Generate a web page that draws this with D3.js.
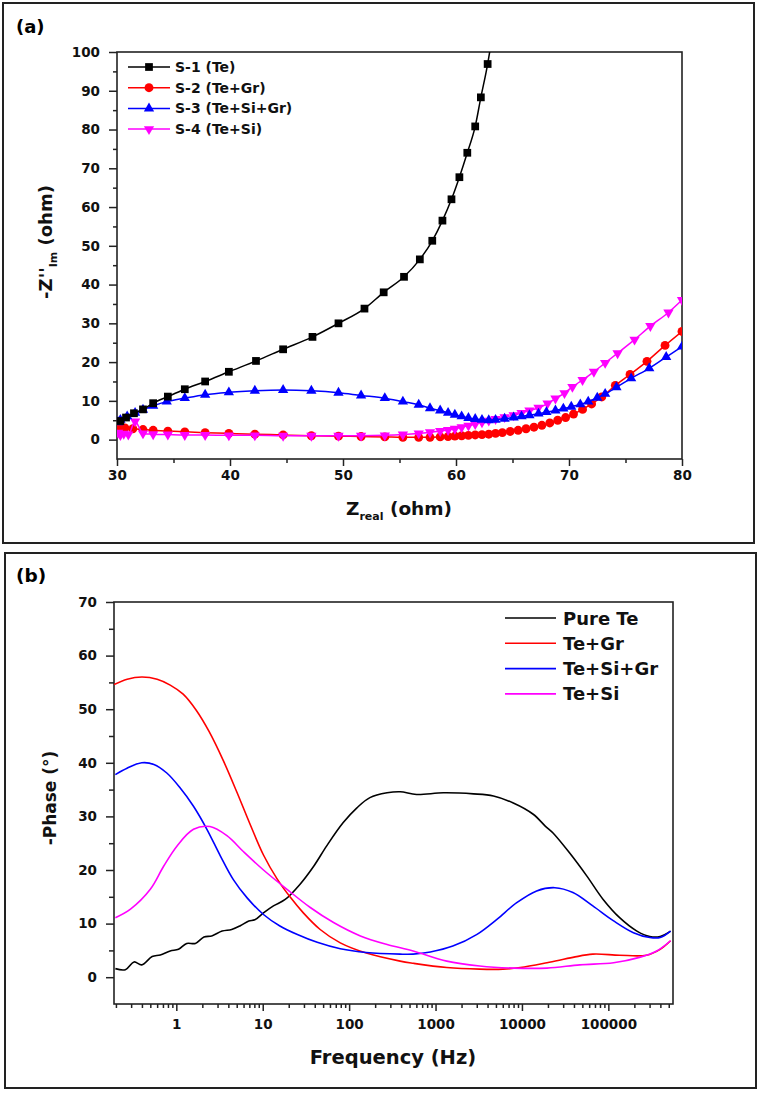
<!DOCTYPE html>
<html><head><meta charset="utf-8">
<script src="https://cdn.jsdelivr.net/npm/d3@7"></script>
<style>
body{margin:0;background:#fff}
svg{display:block}
text{font-family:"DejaVu Sans",sans-serif}
</style></head>
<body><svg id="c" width="761" height="1093"></svg>
<script>
// ---------- Panel (a) data: Nyquist, [Z_real, -Z''_Im] ----------
const s1Name = "S-1 (Te)", s2Name = "S-2 (Te+Gr)", s3Name = "S-3 (Te+Si+Gr)", s4Name = "S-4 (Te+Si)";
const s1 = [[30.3,4.8],[30.8,5.7],[31.5,6.8],[32.3,7.8],[33.2,9.4],[34.5,11.1],[36.0,13.0],[37.8,15.0],[39.9,17.5],[42.3,20.3],[44.7,23.3],[47.3,26.5],[49.6,30.0],[51.9,33.8],[53.6,38.0],[55.4,42.0],[56.8,46.5],[57.9,51.3],[58.8,56.5],[59.6,62.0],[60.3,67.7],[61.0,74.0],[61.7,80.8],[62.2,88.3],[62.8,96.9],[63.2,104]];
const s2 = [[30.2,3.5],[30.7,3.0],[31.4,2.8],[32.3,2.6],[33.2,2.4],[34.5,2.2],[36.0,2.0],[37.8,1.8],[39.9,1.6],[42.2,1.4],[44.7,1.2],[47.2,1.0],[49.6,0.9],[51.6,0.8],[53.7,0.7],[55.3,0.6],[56.7,0.6],[57.7,0.6],[58.6,0.7],[59.3,0.8],[59.9,0.9],[60.5,1.0],[61.1,1.1],[61.7,1.2],[62.3,1.3],[62.9,1.4],[63.5,1.6],[64.1,1.8],[64.8,2.1],[65.5,2.4],[66.2,2.8],[66.9,3.2],[67.6,3.7],[68.3,4.3],[69.0,5.0],[69.7,5.7],[70.4,6.6],[71.2,7.8],[72.0,9.2],[72.9,11.0],[74.1,14.0],[75.4,16.8],[76.9,20.2],[78.5,24.3],[80,27.9]];
const s3 = [[30.1,4.5],[30.3,5.1],[30.9,6.0],[31.6,6.9],[32.3,7.7],[33.2,8.7],[34.4,9.8],[36.0,10.7],[37.8,11.6],[39.9,12.2],[42.2,12.6],[44.7,12.8],[47.2,12.6],[49.6,12.1],[51.6,11.4],[53.7,10.7],[55.3,9.8],[56.7,9.0],[57.7,8.1],[58.6,7.5],[59.3,6.9],[59.9,6.4],[60.5,6.0],[61.1,5.6],[61.7,5.3],[62.3,5.1],[62.9,5.0],[63.5,5.1],[64.3,5.4],[65.1,5.7],[65.8,6.0],[66.5,6.3],[67.3,6.7],[68.0,7.1],[68.8,7.5],[69.5,8.0],[70.2,8.5],[71.0,9.1],[71.7,9.8],[72.5,10.8],[73.2,11.8],[74.2,13.5],[75.5,15.8],[77.1,18.4],[78.6,21.3],[80,24.0]];
const s4 = [[30.1,1.8],[30.3,1.2],[30.6,1.5],[31.0,1.3],[31.6,4.7],[32.3,1.6],[33.2,1.4],[34.5,1.3],[36.0,1.2],[37.8,1.2],[39.9,1.1],[42.2,1.1],[44.7,1.0],[47.2,1.0],[49.6,1.0],[51.6,1.0],[53.7,1.1],[55.3,1.3],[56.7,1.6],[57.7,1.9],[58.6,2.2],[59.3,2.5],[59.9,2.8],[60.5,3.2],[61.1,3.6],[61.7,4.0],[62.3,4.5],[62.9,4.9],[63.5,5.3],[64.3,5.8],[65.1,6.3],[65.8,6.9],[66.5,7.5],[67.3,8.2],[68.1,9.3],[68.8,10.6],[69.6,12.0],[70.3,13.6],[71.2,15.4],[72.2,17.5],[73.2,19.8],[74.3,22.3],[75.8,25.8],[77.2,29.3],[78.8,32.8],[80,36.0]];
const xTicksA = [30,40,50,60,70,80];
const xMinorA = [35,45,55,65,75];
const yTicksA = [0,10,20,30,40,50,60,70,80,90,100];
const yMinorA = [5,15,25,35,45,55,65,75,85,95];

// ---------- Panel (b) data: Bode phase, [frequency Hz, -phase deg] ----------
const bNames = ["Pure Te","Te+Gr","Te+Si+Gr","Te+Si"];
const pureTe = [[0.197,1.6],[0.257,1.4],[0.324,2.85],[0.398,2.3],[0.525,3.85],[0.653,4.15],[0.85,4.9],[1.06,5.2],[1.32,6.3],[1.66,6.3],[2.09,7.5],[2.57,7.7],[3.39,8.6],[4.37,8.9],[5.5,9.6],[6.9,10.5],[8.1,10.7],[10.2,12.0],[13.3,13.3],[18.2,14.5],[26.9,17.3],[38.9,20.7],[55,24.5],[85,28.8],[123,31.6],[174,33.5],[275,34.4],[389,34.6],[603,34.1],[1230,34.4],[2750,34.2],[4680,33.8],[7940,32.5],[13500,30.4],[18600,28.2],[22900,26.9],[35500,23.2],[56200,18.9],[87100,14.5],[135000,11.1],[214000,8.6],[302000,7.6],[398000,7.6],[525000,8.6]];
const teGr = [[0.19,54.6],[0.27,55.6],[0.4,56.0],[0.6,55.6],[0.85,54.5],[1.2,52.8],[1.7,49.8],[2.4,45.8],[3.5,40.4],[5.0,34.6],[7.2,28.4],[10.2,22.8],[14.6,18.4],[20.9,14.9],[29.5,12.0],[46.2,8.9],[79,6.4],[158,4.5],[389,3.0],[550,2.6],[1350,1.8],[3240,1.5],[6030,1.5],[9550,1.8],[19500,2.7],[38900,3.7],[66100,4.3],[135000,4.1],[275000,4.1],[398000,5.2],[525000,6.8]];
const teSiGr = [[0.197,37.8],[0.269,39.0],[0.398,40.0],[0.55,39.7],[0.776,38.1],[1.11,35.3],[1.58,31.9],[2.26,27.6],[3.24,22.6],[4.57,18.2],[6.6,14.8],[10.2,11.7],[15.8,9.55],[24.8,8.0],[42.7,6.5],[79,5.3],[158,4.6],[389,4.3],[550,4.3],[871,4.7],[1585,5.8],[3020,8.0],[5130,10.8],[8710,13.9],[14800,16.1],[24000,16.7],[38900,15.8],[66100,13.3],[115000,10.5],[195000,8.3],[302000,7.4],[398000,7.4],[525000,8.6]];
const teSi = [[0.197,11.1],[0.295,12.7],[0.50,16.4],[0.713,20.7],[1.02,24.5],[1.58,27.6],[2.45,28.1],[3.85,26.4],[6.0,23.4],[10.2,20.0],[19.1,16.4],[35.5,13.0],[66,10.2],[135,7.7],[275,6.1],[550,4.9],[1350,3.0],[3240,2.1],[7940,1.7],[19500,1.7],[46800,2.3],[115000,2.7],[229000,3.7],[363000,4.9],[525000,6.8]];
const xTicksB = [1,10,100,1000,10000,100000];
const yTicksB = [0,10,20,30,40,50,60,70];
const yMinorB = [5,15,25,35,45,55,65];

const svg = d3.select("#c");
const AX = "#222";

// outer panel borders
svg.append("rect").attr("x",3).attr("y",3).attr("width",751).attr("height",540)
  .attr("fill","none").attr("stroke",AX).attr("stroke-width",2);
svg.append("rect").attr("x",5).attr("y",553).attr("width",751).attr("height",535)
  .attr("fill","none").attr("stroke",AX).attr("stroke-width",2);

function styleAxis(g, fs){
  g.select(".domain").remove();
  g.selectAll("line").attr("stroke",AX).attr("stroke-width",1.5);
  g.selectAll("text").attr("font-size",fs).attr("font-weight","bold").attr("fill","#111")
    .attr("font-family","DejaVu Sans, sans-serif");
}

// ================= Panel (a) =================
const A = {l:117, r:682, t:52, b:459};
const xA = d3.scaleLinear().domain([30,80]).range([A.l,A.r]);
const yA = d3.scaleLinear().domain([-5,100]).range([A.b,A.t]);

const defs = svg.append("defs");
defs.append("clipPath").attr("id","clipA").append("rect")
  .attr("x",A.l).attr("y",A.t).attr("width",A.r-A.l).attr("height",A.b-A.t);
const B = {l:114, r:673, t:602, b:1004};
defs.append("clipPath").attr("id","clipB").append("rect")
  .attr("x",B.l).attr("y",B.t).attr("width",B.r-B.l).attr("height",B.b-B.t);

let g;
g = svg.append("g").attr("transform",`translate(${A.l},0)`)
  .call(d3.axisLeft(yA).tickValues(yTicksA).tickSize(8).tickSizeOuter(0).tickPadding(9));
styleAxis(g,13.5);
g = svg.append("g").attr("transform",`translate(${A.l},0)`)
  .call(d3.axisLeft(yA).tickValues(yMinorA).tickSize(4).tickSizeOuter(0).tickFormat(""));
styleAxis(g,13.5);
g = svg.append("g").attr("transform",`translate(0,${A.b})`)
  .call(d3.axisBottom(xA).tickValues(xTicksA).tickSize(7).tickSizeOuter(0).tickPadding(4));
styleAxis(g,13.5);
g = svg.append("g").attr("transform",`translate(0,${A.b})`)
  .call(d3.axisBottom(xA).tickValues(xMinorA).tickSize(4).tickSizeOuter(0).tickFormat(""));
styleAxis(g,13.5);

svg.append("rect").attr("x",A.l).attr("y",A.t).attr("width",A.r-A.l).attr("height",A.b-A.t)
  .attr("fill","none").attr("stroke",AX).attr("stroke-width",1.6);

const seriesA = [
  {name:s1Name, data:s1, color:"#000000", sym:d3.symbolSquare, size:60, rot:0},
  {name:s2Name, data:s2, color:"#ff0000", sym:d3.symbolCircle, size:62, rot:0},
  {name:s3Name, data:s3, color:"#0000ff", sym:d3.symbolTriangle, size:46, rot:0},
  {name:s4Name, data:s4, color:"#ff00ff", sym:d3.symbolTriangle, size:46, rot:180}
];
const lineA = d3.line().x(d=>xA(d[0])).y(d=>yA(d[1])).curve(d3.curveMonotoneX);
const plotA = svg.append("g").attr("clip-path","url(#clipA)");
[seriesA[1], seriesA[3], seriesA[2], seriesA[0]].forEach(s=>{
  plotA.append("path").datum(s.data).attr("d",lineA).attr("fill","none")
    .attr("stroke",s.color).attr("stroke-width",1.5);
  const sg = d3.symbol().type(s.sym).size(s.size);
  plotA.append("g").selectAll("path").data(s.data).join("path")
    .attr("d",sg).attr("fill",s.color)
    .attr("transform",d=>`translate(${xA(d[0])},${yA(d[1])}) rotate(${s.rot})`);
});

// legend (a)
seriesA.forEach((s,i)=>{
  const y = 67 + i*20.7;
  svg.append("line").attr("x1",128).attr("x2",170).attr("y1",y).attr("y2",y)
    .attr("stroke",s.color).attr("stroke-width",1.5);
  svg.append("path").attr("d",d3.symbol().type(s.sym).size(s.size)())
    .attr("fill",s.color).attr("transform",`translate(149,${y}) rotate(${s.rot})`);
  svg.append("text").attr("x",175).attr("y",y+5).attr("font-size",14).attr("font-weight","bold")
    .attr("fill","#111").text(s.name);
});

// titles (a)
svg.append("text").attr("x",16).attr("y",33).attr("font-size",18).attr("font-weight","bold").text("(a)");
const ytA = svg.append("text").attr("transform","translate(52,242) rotate(-90)")
  .attr("text-anchor","middle").attr("font-weight","bold").attr("fill","#111");
ytA.append("tspan").attr("font-size",18).text("-Z''");
ytA.append("tspan").attr("font-size",11).attr("dy",5).text("Im");
ytA.append("tspan").attr("font-size",18).attr("dy",-5).text(" (ohm)");
const xtA = svg.append("text").attr("x",399).attr("y",515)
  .attr("text-anchor","middle").attr("font-weight","bold").attr("fill","#111");
xtA.append("tspan").attr("font-size",18.5).text("Z");
xtA.append("tspan").attr("font-size",11).attr("dy",5).text("real");
xtA.append("tspan").attr("font-size",18.5).attr("dy",-5).text(" (ohm)");

// ================= Panel (b) =================
const xB = d3.scaleLog().domain([0.19,560000]).range([B.l,B.r]);
const yB = d3.scaleLinear().domain([-5,70]).range([B.b,B.t]);
const xMinorB = [];
for (let k=-1;k<=5;k++) for (let m=2;m<=9;m++){ const v=m*Math.pow(10,k); if(v>=0.19 && v<=560000) xMinorB.push(v); }

g = svg.append("g").attr("transform",`translate(${B.l},0)`)
  .call(d3.axisLeft(yB).tickValues(yTicksB).tickSize(8).tickSizeOuter(0).tickPadding(9));
styleAxis(g,13.5);
g = svg.append("g").attr("transform",`translate(${B.l},0)`)
  .call(d3.axisLeft(yB).tickValues(yMinorB).tickSize(5).tickSizeOuter(0).tickFormat(""));
styleAxis(g,13.5);
g = svg.append("g").attr("transform",`translate(0,${B.b})`)
  .call(d3.axisBottom(xB).tickValues(xTicksB).tickSize(7).tickSizeOuter(0).tickPadding(8).tickFormat(d=>String(d)));
styleAxis(g,13.5);
g = svg.append("g").attr("transform",`translate(0,${B.b})`)
  .call(d3.axisBottom(xB).tickValues(xMinorB).tickSize(4).tickSizeOuter(0).tickFormat(""));
styleAxis(g,13.5);

svg.append("rect").attr("x",B.l).attr("y",B.t).attr("width",B.r-B.l).attr("height",B.b-B.t)
  .attr("fill","none").attr("stroke",AX).attr("stroke-width",1.6);

const seriesB = [
  {name:bNames[0], data:pureTe, color:"#000000"},
  {name:bNames[1], data:teGr, color:"#ff0000"},
  {name:bNames[2], data:teSiGr, color:"#0000ff"},
  {name:bNames[3], data:teSi, color:"#ff00ff"}
];
const lineB = d3.line().x(d=>xB(d[0])).y(d=>yB(d[1])).curve(d3.curveCatmullRom.alpha(0.5));
const plotB = svg.append("g").attr("clip-path","url(#clipB)");
seriesB.forEach(s=>{
  plotB.append("path").datum(s.data).attr("d",lineB).attr("fill","none")
    .attr("stroke",s.color).attr("stroke-width",1.6);
});

// legend (b)
seriesB.forEach((s,i)=>{
  const y = 618 + i*25.3;
  svg.append("line").attr("x1",505).attr("x2",556).attr("y1",y).attr("y2",y)
    .attr("stroke",s.color).attr("stroke-width",1.6);
  svg.append("text").attr("x",563).attr("y",y+6.5).attr("font-size",18).attr("font-weight","bold")
    .attr("fill","#111").text(s.name);
});

// titles (b)
svg.append("text").attr("x",16).attr("y",582).attr("font-size",18.5).attr("font-weight","bold").text("(b)");
svg.append("text").attr("transform","translate(56,798) rotate(-90)").attr("text-anchor","middle")
  .attr("font-size",17).attr("font-weight","bold").attr("fill","#111").text("-Phase (°)");
svg.append("text").attr("x",393).attr("y",1064).attr("text-anchor","middle")
  .attr("font-size",19.5).attr("font-weight","bold").attr("fill","#111").text("Frequency (Hz)");
</script>
</body></html>
